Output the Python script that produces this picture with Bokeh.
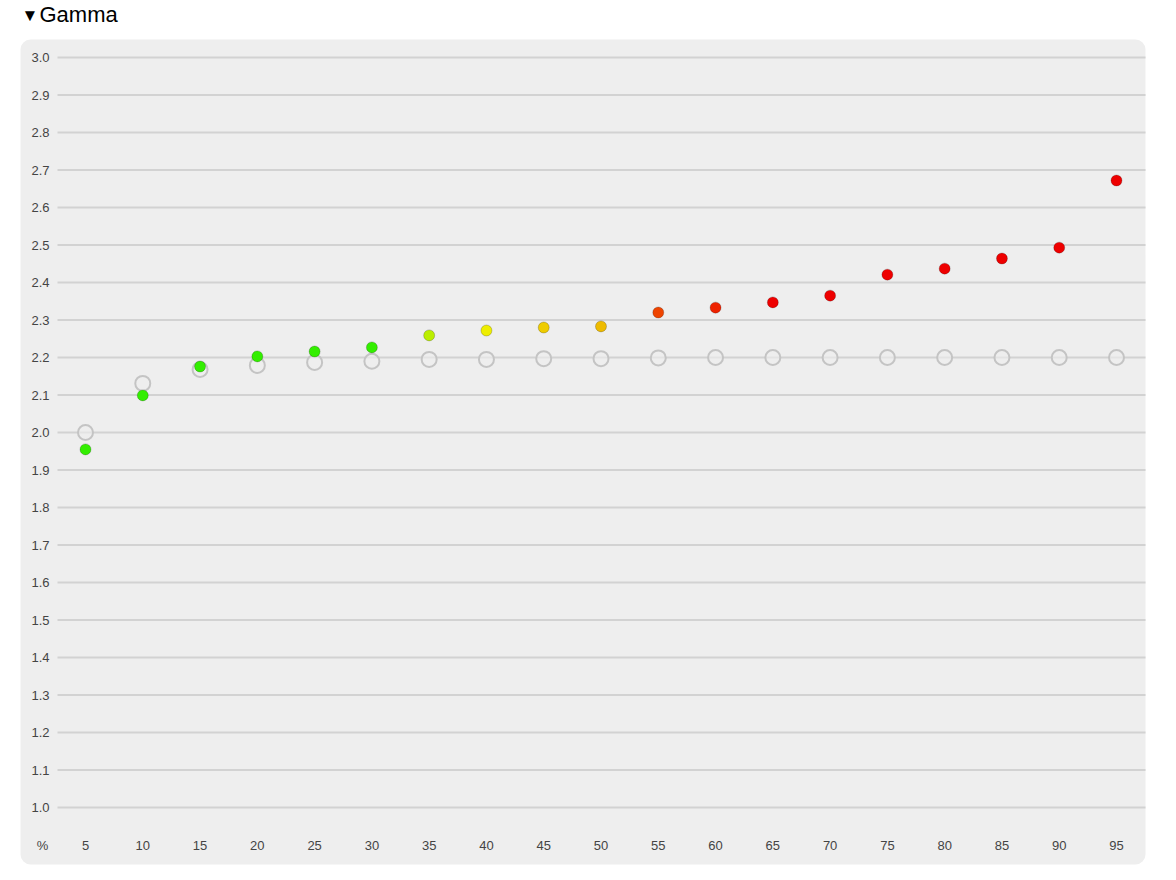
from bokeh.plotting import figure
from bokeh.models import Range1d, BoxAnnotation, Label
from bokeh.core.properties import value
from bokeh.embed import file_html
from bokeh.resources import INLINE

# ---------------- data ----------------
title_text = "Gamma"
percent = [5, 10, 15, 20, 25, 30, 35, 40, 45, 50, 55, 60, 65, 70, 75, 80, 85, 90, 95]
target_gamma = [2.000, 2.131, 2.168, 2.179, 2.187, 2.190, 2.195, 2.195, 2.197, 2.197,
                2.199, 2.200, 2.200, 2.200, 2.200, 2.200, 2.200, 2.200, 2.200]
measured_gamma = [1.955, 2.099, 2.176, 2.203, 2.216, 2.227, 2.259, 2.272, 2.280, 2.283,
                  2.320, 2.333, 2.347, 2.365, 2.421, 2.437, 2.464, 2.493, 2.672]
point_colors = ["#33ee00", "#33ee00", "#33ee00", "#33ee00", "#33ee00", "#33ee00",
                "#bbee00", "#eeee00", "#eecc00", "#eebb00", "#ee4400", "#ee2200",
                "#ee0000", "#ee0000", "#ee0000", "#ee0000", "#ee0000", "#ee0000", "#ee0000"]
y_ticks = [1.0, 1.1, 1.2, 1.3, 1.4, 1.5, 1.6, 1.7, 1.8, 1.9, 2.0,
           2.1, 2.2, 2.3, 2.4, 2.5, 2.6, 2.7, 2.8, 2.9, 3.0]
y_tick_labels = ["1.0", "1.1", "1.2", "1.3", "1.4", "1.5", "1.6", "1.7", "1.8", "1.9", "2.0",
                 "2.1", "2.2", "2.3", "2.4", "2.5", "2.6", "2.7", "2.8", "2.9", "3.0"]
x_tick_labels = [str(v) for v in percent]
x_unit_label = "%"

# ---------------- layout ----------------
W, H = 1176, 880
kx = (1116 - 85) / 90.0          # px per percent unit
ky = 375.0                        # px per gamma unit
x0 = 5 - 85 / kx
x1 = x0 + W / kx
ytop = 3.0 + 57 / ky
ybot = ytop - H / ky


def px_x(px):
    return x0 + px / kx


def px_y(py):
    return ytop - py / ky


p = figure(width=W, height=H, x_range=Range1d(x0, x1), y_range=Range1d(ybot, ytop),
           x_axis_location=None, y_axis_location=None, min_border=0,
           toolbar_location=None, output_backend="svg")
p.grid.visible = False
p.outline_line_color = None
p.background_fill_color = "white"
p.border_fill_color = "white"

FONT_NAME = "Liberation Sans"
FONT = value(FONT_NAME)

# rounded panel
panel = BoxAnnotation(left=px_x(20), right=px_x(1145), top=px_y(39), bottom=px_y(864),
                      fill_color="#eeeeee", fill_alpha=1.0, line_color=None,
                      border_radius=10, level="underlay")
p.add_layout(panel)

# gridlines
p.segment(x0=[px_x(57)] * len(y_ticks), x1=[px_x(1145)] * len(y_ticks),
          y0=y_ticks, y1=y_ticks, line_color="#d2d2d2", line_width=2)

# y tick labels
p.text(x=[px_x(49)] * len(y_ticks), y=y_ticks, text=y_tick_labels,
       text_font=FONT, text_font_size="13px", text_align="right",
       text_baseline="middle", text_color="#444444")

# x tick labels
xl_y = px_y(845)
p.text(x=percent, y=[xl_y] * len(percent), text=x_tick_labels,
       text_font=FONT, text_font_size="13px", text_align="center",
       text_baseline="middle", text_color="#444444")
p.text(x=[px_x(42)], y=[xl_y], text=[x_unit_label],
       text_font=FONT, text_font_size="13px", text_align="center",
       text_baseline="middle", text_color="#444444")

# target curve (gray rings)
p.scatter(percent, target_gamma, size=15, fill_color="#eeeeee", fill_alpha=0.6,
          line_color="#c4c4c4", line_width=2)

# measured points
p.scatter(percent, measured_gamma, size=11, fill_color=point_colors,
          line_color="black", line_alpha=0.2, line_width=1)

# title
p.add_layout(Label(x=px_x(21), y=px_y(15), text="\u25bc", text_font=FONT_NAME,
                   text_font_size="17px", text_baseline="middle", text_color="#000000"))
p.add_layout(Label(x=px_x(39), y=px_y(14), text=title_text, text_font=FONT_NAME,
                   text_font_size="22px", text_baseline="middle", text_color="#000000"))

open("out.html", "w").write(file_html(p, INLINE))
